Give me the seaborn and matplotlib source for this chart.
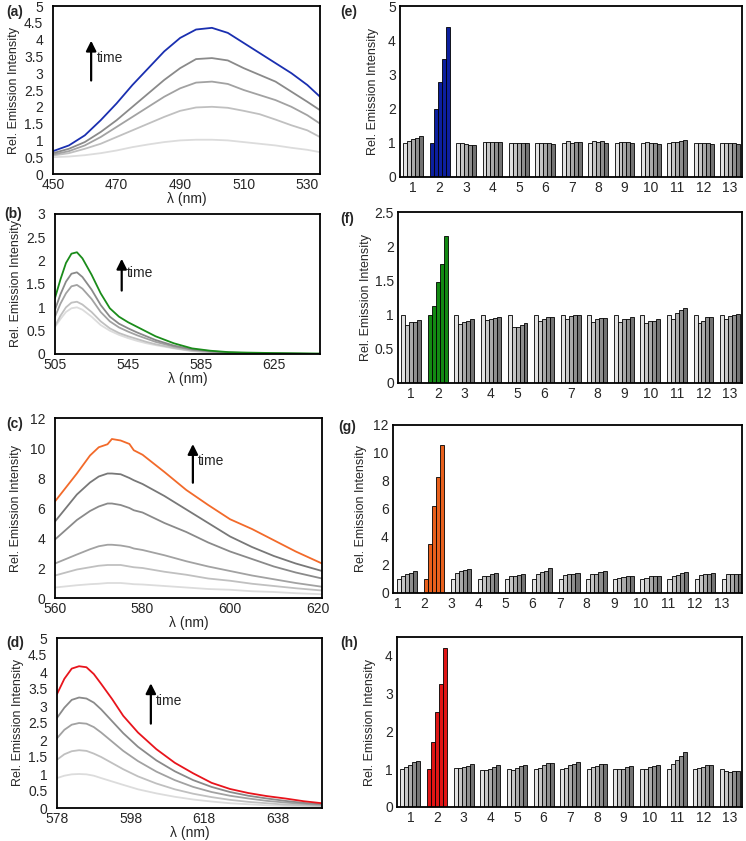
import numpy as np
import pandas as pd
import matplotlib
matplotlib.use("Agg")
import matplotlib.pyplot as plt
import seaborn as sns

sns.set_style("white")
plt.rcParams['font.family'] = ['Liberation Sans', 'DejaVu Sans']
plt.rcParams['font.size'] = 10

## Spectra (a) - blue
wl_a = [450, 455, 460, 465, 470, 475, 480, 485, 490, 495, 500, 505, 510, 515, 520, 525, 530, 534]
a_t1 = [0.50, 0.52, 0.56, 0.62, 0.70, 0.80, 0.88, 0.95, 1.00, 1.02, 1.02, 1.00, 0.95, 0.90, 0.85, 0.78, 0.72, 0.65]
a_t2 = [0.55, 0.62, 0.75, 0.90, 1.10, 1.30, 1.50, 1.70, 1.88, 1.98, 2.00, 1.97, 1.88, 1.78, 1.62, 1.45, 1.30, 1.10]
a_t3 = [0.58, 0.68, 0.85, 1.10, 1.40, 1.70, 2.00, 2.30, 2.55, 2.72, 2.75, 2.68, 2.50, 2.35, 2.20, 2.00, 1.75, 1.50]
a_t4 = [0.62, 0.75, 0.95, 1.25, 1.60, 2.00, 2.40, 2.80, 3.15, 3.42, 3.45, 3.38, 3.15, 2.95, 2.75, 2.45, 2.15, 1.90]
a_t5 = [0.68, 0.85, 1.15, 1.60, 2.10, 2.65, 3.15, 3.65, 4.05, 4.30, 4.35, 4.20, 3.90, 3.60, 3.30, 3.00, 2.65, 2.30]

## Spectra (b) - green
wl_b = [505, 508, 511, 514, 517, 520, 525, 530, 535, 540, 545, 550, 555, 560, 570, 580, 590, 600, 610, 625, 650]
b_t1 = [0.58, 0.75, 0.90, 0.98, 1.00, 0.95, 0.80, 0.62, 0.50, 0.41, 0.34, 0.28, 0.23, 0.19, 0.12, 0.06, 0.03, 0.02, 0.01, 0.00, 0.00]
b_t2 = [0.60, 0.82, 1.00, 1.10, 1.12, 1.06, 0.90, 0.70, 0.55, 0.45, 0.38, 0.32, 0.26, 0.21, 0.13, 0.07, 0.04, 0.02, 0.01, 0.01, 0.00]
b_t3 = [0.80, 1.08, 1.30, 1.45, 1.48, 1.40, 1.18, 0.90, 0.70, 0.57, 0.48, 0.40, 0.33, 0.26, 0.16, 0.09, 0.05, 0.03, 0.02, 0.01, 0.00]
b_t4 = [0.95, 1.28, 1.55, 1.72, 1.75, 1.65, 1.38, 1.05, 0.80, 0.65, 0.55, 0.46, 0.38, 0.30, 0.18, 0.10, 0.06, 0.03, 0.02, 0.01, 0.00]
b_t5 = [1.20, 1.60, 1.95, 2.15, 2.18, 2.05, 1.70, 1.30, 0.98, 0.80, 0.68, 0.58, 0.48, 0.38, 0.23, 0.12, 0.07, 0.04, 0.03, 0.02, 0.01]

## Spectra (c) - orange
wl_c = [560, 565, 568, 570, 572, 573, 575, 577, 578, 580, 585, 590, 595, 600, 605, 610, 615, 621]
c_t1 = [0.70, 0.85, 0.92, 0.95, 1.00, 1.00, 1.00, 0.95, 0.92, 0.90, 0.80, 0.70, 0.60, 0.55, 0.45, 0.40, 0.32, 0.25]
c_t2 = [1.50, 1.90, 2.05, 2.15, 2.20, 2.20, 2.20, 2.10, 2.05, 2.00, 1.75, 1.55, 1.30, 1.15, 0.95, 0.80, 0.65, 0.50]
c_t3 = [2.30, 2.90, 3.25, 3.45, 3.55, 3.55, 3.50, 3.40, 3.30, 3.20, 2.85, 2.45, 2.10, 1.80, 1.50, 1.25, 1.00, 0.75]
c_t4 = [3.90, 5.20, 5.80, 6.10, 6.30, 6.30, 6.20, 6.00, 5.85, 5.70, 5.00, 4.40, 3.70, 3.10, 2.60, 2.10, 1.70, 1.30]
c_t5 = [5.10, 6.90, 7.70, 8.10, 8.30, 8.30, 8.25, 8.00, 7.85, 7.60, 6.80, 5.90, 5.00, 4.10, 3.40, 2.80, 2.30, 1.80]
c_t6 = [6.44, 8.30, 9.50, 10.05, 10.25, 10.60, 10.50, 10.27, 9.85, 9.55, 8.40, 7.20, 6.20, 5.25, 4.60, 3.85, 3.10, 2.30]

## Spectra (d) - red
wl_d = [578, 580, 582, 584, 586, 588, 590, 593, 596, 600, 605, 610, 615, 620, 625, 630, 635, 640, 645, 650]
d_t1 = [0.88, 0.95, 0.99, 1.00, 0.99, 0.95, 0.88, 0.78, 0.68, 0.55, 0.43, 0.33, 0.25, 0.19, 0.14, 0.11, 0.08, 0.06, 0.05, 0.04]
d_t2 = [1.42, 1.58, 1.67, 1.70, 1.68, 1.60, 1.50, 1.32, 1.14, 0.93, 0.72, 0.55, 0.42, 0.32, 0.24, 0.18, 0.14, 0.10, 0.08, 0.06]
d_t3 = [2.05, 2.30, 2.45, 2.50, 2.48, 2.38, 2.22, 1.95, 1.68, 1.38, 1.07, 0.82, 0.62, 0.47, 0.36, 0.28, 0.21, 0.16, 0.12, 0.09]
d_t4 = [2.65, 2.95, 3.18, 3.25, 3.22, 3.10, 2.90, 2.55, 2.20, 1.80, 1.40, 1.08, 0.82, 0.62, 0.47, 0.36, 0.28, 0.21, 0.15, 0.11]
d_t5 = [3.35, 3.80, 4.10, 4.17, 4.14, 3.94, 3.65, 3.20, 2.71, 2.22, 1.73, 1.33, 1.02, 0.74, 0.56, 0.44, 0.35, 0.28, 0.20, 0.14]

## Bar data (13 compounds x 5 time points)
compounds = [str(i) for i in range(1, 14)]
times = ["t1", "t2", "t3", "t4", "t5"]
e_vals = [[1.00, 1.05, 1.10, 1.15, 1.20], [1.00, 2.00, 2.78, 3.45, 4.40], [1.00, 0.98, 0.96, 0.95, 0.95],
          [1.02, 1.03, 1.03, 1.02, 1.01], [1.00, 0.98, 0.98, 1.00, 1.00], [1.00, 1.00, 0.98, 0.98, 0.97],
          [1.00, 1.04, 1.00, 1.02, 1.02], [1.00, 1.04, 1.02, 1.04, 1.00], [1.00, 1.02, 1.02, 1.02, 1.00],
          [1.00, 1.02, 0.98, 0.99, 0.97], [1.00, 1.02, 1.03, 1.06, 1.08], [1.00, 0.99, 0.98, 0.98, 0.97],
          [1.00, 0.99, 0.98, 1.00, 0.97]]
f_vals = [[1.00, 0.85, 0.89, 0.89, 0.92], [1.00, 1.13, 1.48, 1.74, 2.15], [1.00, 0.86, 0.89, 0.91, 0.94],
          [1.00, 0.92, 0.93, 0.95, 0.97], [1.00, 0.82, 0.82, 0.85, 0.87], [1.00, 0.90, 0.94, 0.96, 0.97],
          [1.00, 0.94, 0.98, 0.99, 0.99], [1.00, 0.89, 0.94, 0.95, 0.95], [1.00, 0.89, 0.93, 0.94, 0.96],
          [1.00, 0.87, 0.90, 0.91, 0.93], [1.00, 0.94, 1.02, 1.06, 1.10], [1.00, 0.88, 0.91, 0.97, 0.96],
          [1.00, 0.93, 0.98, 0.99, 1.01]]
g_vals = [[1.00, 1.20, 1.35, 1.45, 1.55], [1.00, 3.50, 6.20, 8.30, 10.60], [1.00, 1.45, 1.55, 1.65, 1.70],
          [1.00, 1.20, 1.25, 1.35, 1.45], [1.00, 1.20, 1.25, 1.30, 1.35], [1.00, 1.35, 1.50, 1.60, 1.80],
          [1.00, 1.30, 1.35, 1.35, 1.45], [1.00, 1.35, 1.35, 1.50, 1.60], [1.00, 1.10, 1.15, 1.25, 1.25],
          [1.00, 1.10, 1.20, 1.20, 1.25], [1.00, 1.20, 1.30, 1.40, 1.50], [1.00, 1.30, 1.35, 1.35, 1.40],
          [1.00, 1.35, 1.35, 1.35, 1.35]]
h_vals = [[1.00, 1.05, 1.10, 1.18, 1.22], [1.00, 1.72, 2.52, 3.25, 4.20], [1.02, 1.02, 1.05, 1.08, 1.13],
          [0.99, 0.99, 1.01, 1.07, 1.10], [1.00, 0.98, 1.04, 1.08, 1.10], [1.00, 1.04, 1.10, 1.16, 1.16],
          [1.00, 1.03, 1.10, 1.13, 1.19], [1.00, 1.05, 1.08, 1.13, 1.15], [1.00, 1.00, 1.01, 1.05, 1.08],
          [1.00, 1.01, 1.05, 1.08, 1.11], [1.00, 1.13, 1.24, 1.35, 1.45], [1.00, 1.02, 1.05, 1.10, 1.12],
          [1.00, 0.95, 0.93, 0.95, 0.95]]

line_grays = ["#dcdcdc", "#c0c0c0", "#a2a2a2", "#8a8a8a", "#787878"]
bar_grays = ["#e2e2e2", "#c6c6c6", "#aaaaaa", "#8e8e8e", "#727272"]

W, H = 746, 841
fig = plt.figure(figsize=(W / 100, H / 100), dpi=100)

def rect(l, r, t, b):
    return [l / W, 1 - b / H, (r - l) / W, (b - t) / H]

def style_box(ax):
    for s in ax.spines.values():
        s.set_visible(True)
        s.set_color("black")
        s.set_linewidth(1.3)

def spectra(ax, wl, curves, colors, xlim, ylim, yticks, xticks, arrow):
    for vals, c in zip(curves, colors):
        sns.lineplot(x=wl, y=vals, color=c, linewidth=1.3, ax=ax)
    ax.set_xlim(xlim)
    ax.set_ylim(ylim)
    ax.set_yticks(yticks)
    ax.set_yticklabels([f"{v:g}" for v in yticks])
    ax.set_xticks(xticks)
    ax.tick_params(axis="both", direction="out", length=3, width=1, color="black", labelsize=10)
    ax.tick_params(axis="x", pad=0)
    ax.tick_params(axis="y", pad=4)
    ax.set_ylabel("Rel. Emission Intensity", fontsize=9)
    ax.set_xlabel("λ (nm)", fontsize=10, labelpad=0)
    ax.yaxis.set_label_coords(-0.125, 0.5)
    style_box(ax)
    x0, y0, y1 = arrow
    ax.annotate("", xy=(x0, y1), xytext=(x0, y0),
                arrowprops=dict(arrowstyle="-|>,head_width=0.3,head_length=0.6", color="black", lw=1.6))
    ax.text(x0 + (xlim[1] - xlim[0]) * 0.02, (y0 + y1) / 2 + (y1 - y0) * 0.05, "time", fontsize=10, va="center")

def bars(ax, vals, hi_color, ylim, yticks, tick_shift, xlim, label_x):
    df = pd.DataFrame([(compounds[i], times[j], vals[i][j]) for i in range(13) for j in range(5)],
                      columns=["compound", "time", "value"])
    sns.barplot(data=df, x="compound", y="value", hue="time", order=compounds, hue_order=times,
                palette=bar_grays, saturation=1, width=0.75, edgecolor="black", linewidth=0.6,
                legend=False, ax=ax)
    for p in ax.patches:
        cx = p.get_x() + p.get_width() / 2
        if 0.5 < cx < 1.5:
            p.set_facecolor(hi_color)
    ax.set_ylim(ylim)
    ax.set_yticks(yticks)
    ax.set_yticklabels([f"{v:g}" for v in yticks])
    ax.set_xticks(np.arange(13) + tick_shift)
    ax.set_xticklabels(compounds)
    ax.set_xlim(xlim)
    ax.tick_params(axis="both", length=0, pad=3, labelsize=10)
    ax.set_xlabel("")
    ax.set_ylabel("Rel. Emission Intensity", fontsize=9)
    ax.yaxis.set_label_coords(label_x, 0.5)
    style_box(ax)

ax_a = fig.add_axes(rect(53, 320, 6, 174))
spectra(ax_a, wl_a, [a_t1, a_t2, a_t3, a_t4, a_t5], line_grays[:4] + ["#1a2fb0"],
        (450, 534), (0, 5), np.arange(0, 5.01, 0.5), [450, 470, 490, 510, 530], (462, 2.7, 4.05))

ax_b = fig.add_axes(rect(55, 320, 214, 354))
spectra(ax_b, wl_b, [b_t1, b_t2, b_t3, b_t4, b_t5], line_grays[:4] + ["#1a8c1a"],
        (505, 650), (0, 3), np.arange(0, 3.01, 0.5), [505, 545, 585, 625], (541.5, 1.3, 2.1))

ax_c = fig.add_axes(rect(55, 322, 418, 598))
spectra(ax_c, wl_c, [c_t1, c_t2, c_t3, c_t4, c_t5, c_t6], line_grays + ["#f26a2a"],
        (560, 621), (0, 12), np.arange(0, 12.01, 2), [560, 580, 600, 620], (591.5, 7.5, 10.45))

ax_d = fig.add_axes(rect(57, 322, 638, 808))
spectra(ax_d, wl_d, [d_t1, d_t2, d_t3, d_t4, d_t5], line_grays[:4] + ["#e8141c"],
        (578, 650), (0, 5), np.arange(0, 5.01, 0.5), [578, 598, 618, 638], (603.5, 2.4, 3.75))

ax_e = fig.add_axes(rect(400, 742, 6, 177))
bars(ax_e, e_vals, "#0c1f9e", (0, 5), range(0, 6), 0, (-0.5, 12.45), -0.06)
ax_f = fig.add_axes(rect(398, 742, 212, 383))
bars(ax_f, f_vals, "#138a13", (0, 2.5), np.arange(0, 2.51, 0.5), 0, (-0.5, 12.45), -0.075)
ax_g = fig.add_axes(rect(393, 742, 425, 593))
bars(ax_g, g_vals, "#e8601c", (0, 12), range(0, 13, 2), -0.36, (-0.52, 12.38), -0.075)
ax_h = fig.add_axes(rect(397, 742, 637, 807))
bars(ax_h, h_vals, "#e01515", (0, 4.5), range(0, 5), 0, (-0.5, 12.45), -0.06)

## panel letters
for lab, x, y in [("(a)", 6, 12), ("(b)", 4, 214), ("(c)", 6, 424), ("(d)", 6, 643),
                  ("(e)", 340, 12), ("(f)", 340, 219), ("(g)", 338, 427), ("(h)", 340, 643)]:
    fig.text(x / W, 1 - y / H, lab, fontsize=10, fontweight="bold", va="center", ha="left")

fig.savefig("out.png", dpi=100)
